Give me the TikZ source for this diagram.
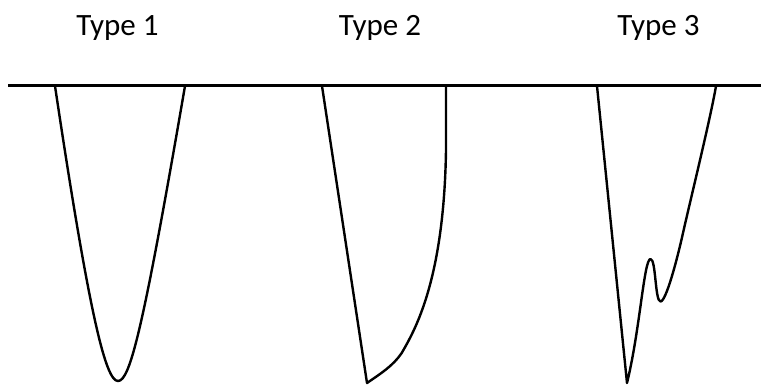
\documentclass[tikz,border=0pt]{standalone}
\usepackage{fontspec}
\setmainfont{Carlito}
\begin{document}
\begin{tikzpicture}[x=1pt,y=-1pt,
  curve/.style={line width=2.4pt, line join=round, line cap=round},
  lbl/.style={anchor=base, inner sep=0pt, font=\fontsize{31}{31}\selectfont}]
\useasboundingbox (0,0) rectangle (761,385);
% labels
\node[lbl] (t1) at (117.5,36) {Type 1};
\node[lbl] (t2) at (380,36) {Type 2};
\node[lbl] (t3) at (658.5,36) {Type 3};
% ground line
\draw[line width=2.4pt] (8,85.5) -- (761,85.5);
% Type 1
\draw[curve] (55,86) .. controls (90,320) and (106,381) .. (118,381)
  .. controls (130,381) and (143,330) .. (185,86);
% Type 2
\draw[curve] (322,86) -- (367,383)
  .. controls (380,374) and (393,366) .. (401.7,353)
  .. controls (415,330) and (444,280) .. (446,150) -- (446,86);
% Type 3
\draw[curve] (597,86) -- (627,383)
  .. controls (640,330) and (644,259) .. (650.5,259)
  .. controls (656,259) and (655,301.5) .. (660.5,301.5)
  .. controls (666,301.5) and (677,260) .. (683,233)
  .. controls (689.7,203) and (711,116) .. (716,86);
\end{tikzpicture}
\end{document}
